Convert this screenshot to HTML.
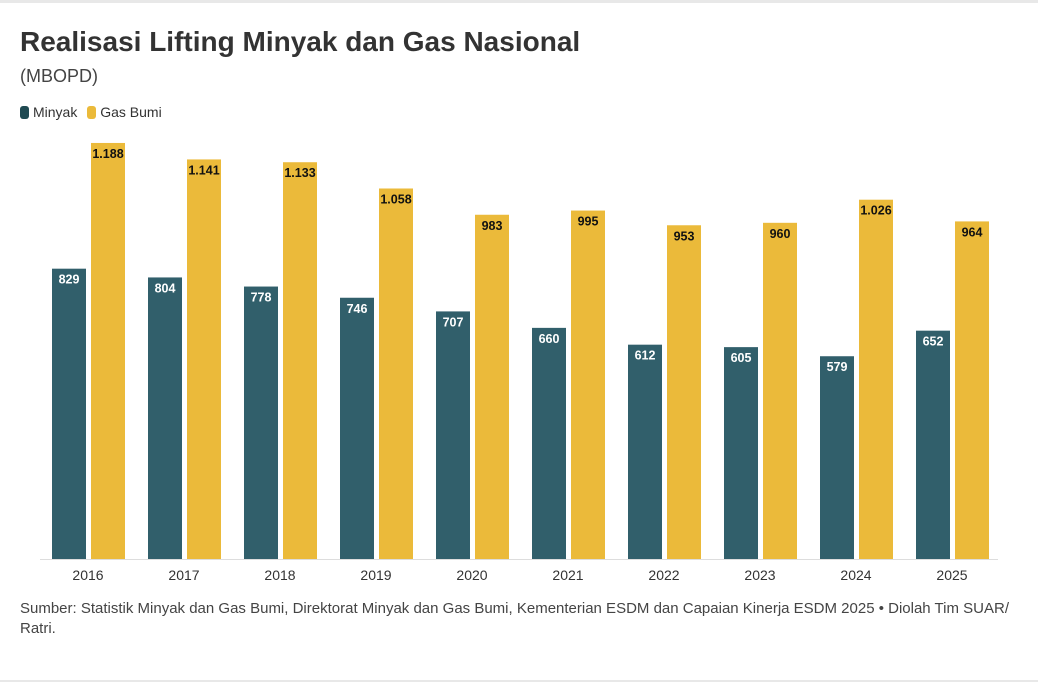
<!DOCTYPE html>
<html><head><meta charset="utf-8"><style>
body{margin:0;width:1038px;height:682px;background:#fff;font-family:"Liberation Sans",sans-serif;position:relative;overflow:hidden}
.t{position:absolute;left:20px;top:26px;font-size:28px;font-weight:bold;color:#333}
.s{position:absolute;left:20px;top:66px;font-size:18px;color:#444}
.lg{position:absolute;top:104px;font-size:14px;color:#333}
.sw{display:inline-block;width:9px;height:13px;border-radius:3px;vertical-align:-2px;margin-right:4px}
.src{position:absolute;left:20px;top:599px;width:1010px;font-size:15px;line-height:20px;color:#444}
</style></head><body>
<div style="position:absolute;left:0;top:0;width:1038px;height:3px;background:#e8e8e8"></div>
<div style="position:absolute;left:0;top:680px;width:1038px;height:2px;background:#e8e8e8"></div>
<div class="t">Realisasi Lifting Minyak dan Gas Nasional</div>
<div class="s">(MBOPD)</div>
<div class="lg" style="left:20px"><span class="sw" style="background:#1f4a52"></span>Minyak <span class="sw" style="background:#ebba3a;margin-left:6px"></span>Gas Bumi</div>
<svg width="1038" height="682" style="position:absolute;left:0;top:0" font-family="Liberation Sans, sans-serif">
<line x1="40" y1="559.5" x2="998" y2="559.5" stroke="#ddd"/>
<g id="g"></g>
</svg>
<script>
var m=[829,804,778,746,707,660,612,605,579,652],g=[1188,1141,1133,1058,983,995,953,960,1026,964],ns="http://www.w3.org/2000/svg",G=document.getElementById('g'),s=0.3502;
function el(t,a,tx){var e=document.createElementNS(ns,t);for(var k in a)e.setAttribute(k,a[k]);if(tx)e.textContent=tx;G.appendChild(e);}
function f(v){return v>=1000?(Math.floor(v/1000)+'.'+String(v%1000).padStart(3,'0')):String(v);}
for(var i=0;i<10;i++){var x=52+96*i,h=m[i]*s,y=559-h;
el('rect',{x:x,y:y,width:34,height:h,fill:'#315f6b'});
el('text',{x:x+17,y:y+15,'text-anchor':'middle','font-size':12.5,'font-weight':'bold',fill:'#fff'},f(m[i]));
var x2=x+39,h2=g[i]*s,y2=559-h2;
el('rect',{x:x2,y:y2,width:34,height:h2,fill:'#ebba3a'});
el('text',{x:x2+17,y:y2+15,'text-anchor':'middle','font-size':12.5,'font-weight':'bold',fill:'#111'},f(g[i]));
el('text',{x:x+36,y:580,'text-anchor':'middle','font-size':14,fill:'#333'},String(2016+i));}
</script>
<div class="src">Sumber: Statistik Minyak dan Gas Bumi, Direktorat Minyak dan Gas Bumi, Kementerian ESDM dan Capaian Kinerja ESDM 2025 • Diolah Tim SUAR/<br>Ratri.</div>
</body></html>
